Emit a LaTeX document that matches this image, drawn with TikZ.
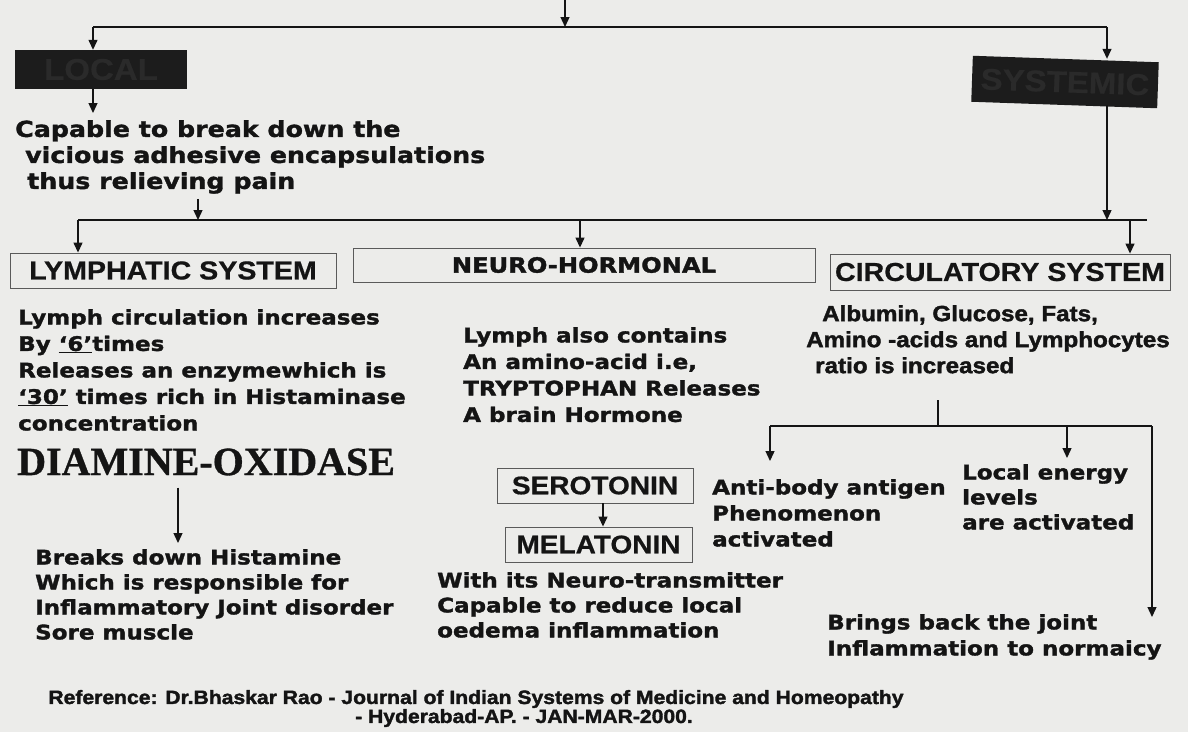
\documentclass[tikz,border=0pt]{standalone}
\usepackage{fontspec}
\setmainfont{DejaVu Sans}[FakeStretch=1.15, BoldFeatures={FakeBold=1.6}]
\newfontfamily\hdrfont{Liberation Sans}[FakeStretch=1.1, BoldFeatures={FakeBold=0.6}]
\newfontfamily\heavyfont{Liberation Sans}[FakeStretch=1.1, BoldFeatures={FakeBold=1.8}]
\newfontfamily\serffont{Liberation Serif}[BoldFeatures={FakeBold=0.8}]
\usetikzlibrary{arrows.meta}
\definecolor{paper}{RGB}{236,236,234}
\definecolor{ink}{RGB}{20,20,20}
\definecolor{boxfill}{RGB}{28,28,28}
\definecolor{boxline}{RGB}{90,90,90}
\definecolor{darktext}{RGB}{42,42,42}
\begin{document}
\begin{tikzpicture}[x=1pt,y=-1pt,
  ln/.style={line width=1.3pt, draw=ink},
  arr/.style={ln, -{Triangle[length=10pt,width=9pt]}},
  body/.style={font=\bfseries\fontsize{20}{26.5}\selectfont, align=left, inner sep=0pt, anchor=north west, text=ink},
  blackbox/.style={fill=boxfill, text=darktext, inner sep=0pt, font=\hdrfont\bfseries\fontsize{30}{32}\selectfont},
  hbox/.style={draw=boxline, line width=0.9pt, inner sep=0pt, text=ink, font=\hdrfont\bfseries\fontsize{26}{30}\selectfont},
  nbox/.style={draw=boxline, line width=0.9pt, inner sep=0pt, text=ink, font=\bfseries\fontsize{21}{24}\selectfont},
  sbox/.style={draw=boxline, line width=0.9pt, inner sep=0pt, text=ink, font=\hdrfont\bfseries\fontsize{25.5}{28}\selectfont},
  reftext/.style={font=\heavyfont\bfseries\fontsize{19.2}{21}\selectfont, inner sep=0pt, text=ink}
]
\useasboundingbox (0,0) rectangle (1188,732);
\fill[paper] (0,0) rectangle (1188,732);

% top level
\coordinate (top) at (565,0);
\coordinate (hL) at (93,27);
\coordinate (hR) at (1107,27);
\node[blackbox, minimum width=172pt, minimum height=39pt] (local) at (101,69.5) {LOCAL};
\node[blackbox, minimum width=186pt, minimum height=46pt, rotate=-2] (systemic) at (1065,82) {SYSTEMIC};
\draw[arr] (top) -- (top|-hL);
\draw[ln] (hL) -- (hR);
\draw[arr] (hL) -- (hL|-local.north);
\draw[arr] (hR) -- (hR|-systemic.north);

\node[body, font=\bfseries\fontsize{22}{26}\selectfont] (capable) at (15,120)
  {Capable to break down the\\\hspace*{10pt}vicious adhesive encapsulations\\\hspace*{12pt}thus relieving pain};
\draw[arr] (hL|-local.south) -- ([yshift=7pt]hL|-capable.north);

% second level
\coordinate (h2L) at (78,220);
\coordinate (h2R) at (1147,220);
\coordinate (c2) at (198,220);
\coordinate (n2) at (580,220);
\coordinate (c3) at (1130,220);
\draw[ln] (h2L) -- (h2R);
\draw[arr] ([yshift=-5pt]c2|-capable.south) -- (c2);
\draw[arr] (systemic.south -| hR) -- (hR|-h2L);

\node[hbox, minimum width=326pt, minimum height=35pt] (lymph) at (173,270.5) {LYMPHATIC SYSTEM};
\node[nbox, minimum width=462pt, minimum height=34pt] (neuro) at (584,265) {NEURO-HORMONAL};
\node[hbox, minimum width=340pt, minimum height=36pt] (circ) at (1000,272) {CIRCULATORY SYSTEM};
\draw[arr] (h2L) -- (h2L|-lymph.north);
\draw[arr] (n2) -- (n2|-neuro.north);
\draw[arr] (c3) -- (c3|-circ.north);

% lymphatic column
\node[body] (lymtext) at (18,309)
  {Lymph circulation increases\\By \underline{‘6’}times\\Releases an enzymewhich is\\\underline{‘30’} times rich in Histaminase\\concentration};
\node[font=\serffont\bfseries\fontsize{40}{42}\selectfont, anchor=west, inner sep=0pt, text=ink] (dao) at (17,462) {DIAMINE-OXIDASE};
\coordinate (d2) at (178,0);
\node[body, font=\bfseries\fontsize{20}{25}\selectfont] (breaks) at (35,549)
  {Breaks down Histamine\\Which is responsible for\\Inflammatory Joint disorder\\Sore muscle};
\draw[arr] ([yshift=-12pt]dao.south -| d2) -- ([yshift=6pt]d2|-breaks.north);

% neuro column
\node[body] (neutext) at (463,327)
  {Lymph also contains\\An amino-acid i.e,\\TRYPTOPHAN Releases\\A brain Hormone};
\node[sbox, minimum width=196pt, minimum height=35pt] (sero) at (595,485.5) {SEROTONIN};
\node[sbox, minimum width=187pt, minimum height=35pt] (mela) at (598.5,544.5) {MELATONIN};
\coordinate (sm) at (603,0);
\draw[arr] (sero.south -| sm) -- (sm|-mela.north);
\node[body, font=\bfseries\fontsize{20}{25}\selectfont] (with) at (437,572)
  {With its Neuro-transmitter\\Capable to reduce local\\oedema inflammation};

% circulatory column
\node[body, font=\heavyfont\bfseries\fontsize{22}{26}\selectfont] (alb) at (806,305)
  {\hspace*{16pt}Albumin, Glucose, Fats,\\Amino -acids and Lymphocytes\\\hspace*{9pt}ratio is increased};
\coordinate (cv) at (938,400);
\coordinate (cL) at (770,426);
\coordinate (cM) at (1067,426);
\coordinate (cR) at (1152,426);
\node[body, font=\bfseries\fontsize{20}{26}\selectfont] (anti) at (712,479)
  {Anti-body antigen\\Phenomenon\\activated};
\node[body, font=\bfseries\fontsize{20}{25}\selectfont] (energy) at (962,464)
  {Local energy\\levels\\are activated};
\node[body, font=\bfseries\fontsize{20}{26}\selectfont] (brings) at (827,614)
  {Brings back the joint\\Inflammation to normaicy};
\draw[ln] (cv) -- (cv|-cL);
\draw[ln] (cL) -- (cR);
\draw[arr] (cL) -- ([yshift=18pt]cL|-anti.north);
\draw[arr] (cM) -- ([yshift=6pt]cM|-energy.north);
\draw[arr] (cR) -- ([yshift=-3pt]cR|-brings.north);

% reference
\node[reftext] (ref1) at (476,699)
  {Reference: Dr.Bhaskar Rao - Journal of Indian Systems of Medicine and Homeopathy};
\node[reftext] (ref2) at (524,718)
  {- Hyderabad-AP. - JAN-MAR-2000.};
\end{tikzpicture}
\end{document}
